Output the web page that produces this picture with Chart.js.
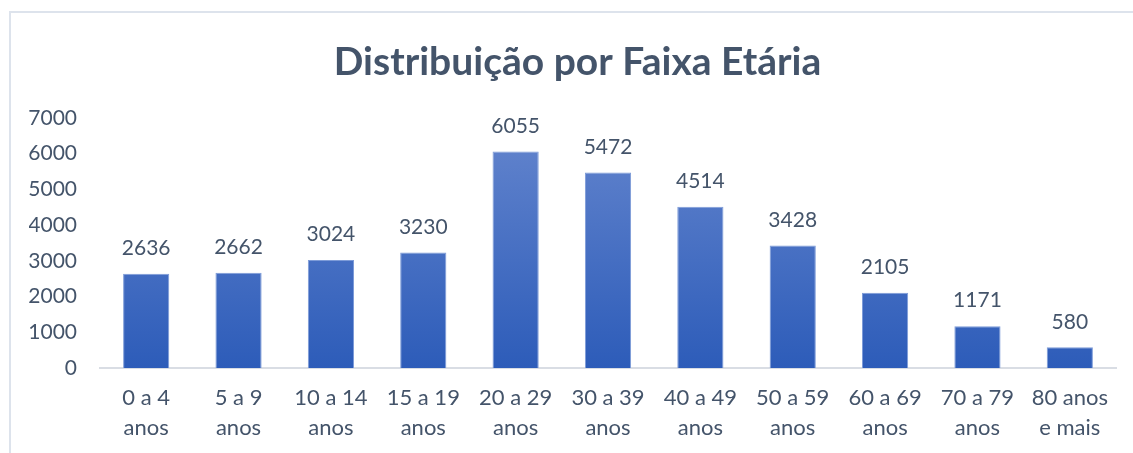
<!DOCTYPE html>
<html>
<head>
<meta charset="utf-8">
<script src="https://cdn.jsdelivr.net/npm/chart.js@4"></script>
<style>
    body { margin: 0; background: #fff; }
    #wrap { position: relative; width: 1133px; height: 453px; }
    #frame {
        position: absolute; left: 9px; top: 11px; width: 1130px; height: 450px;
        border-top: 2px solid #dde3ec; border-left: 2px solid #dde3ec;
    }
    canvas { position: absolute; left: 0; top: 0; }
</style>
</head>
<body>
<div id="wrap">
    <div id="frame"></div>
    <canvas id="ageChart" width="1133" height="453"></canvas>
</div>
<script>
const faixas = [
    ['0 a 4', 'anos'], ['5 a 9', 'anos'], ['10 a 14', 'anos'], ['15 a 19', 'anos'],
    ['20 a 29', 'anos'], ['30 a 39', 'anos'], ['40 a 49', 'anos'], ['50 a 59', 'anos'],
    ['60 a 69', 'anos'], ['70 a 79', 'anos'], ['80 anos', 'e mais']
];
const pessoas = [2636, 2662, 3024, 3230, 6055, 5472, 4514, 3428, 2105, 1171, 580];
const yTicks = [0, 1000, 2000, 3000, 4000, 5000, 6000, 7000];

const textColor = '#44546a';
const fontFamily = 'Lato, "Open Sans", sans-serif';

// value labels above each bar
const valueLabels = {
    id: 'valueLabels',
    afterDatasetsDraw(chart) {
        const ctx = chart.ctx;
        const meta = chart.getDatasetMeta(0);
        ctx.save();
        ctx.font = '21px ' + fontFamily;
        ctx.fillStyle = textColor;
        ctx.textAlign = 'center';
        ctx.textBaseline = 'bottom';
        meta.data.forEach((bar, i) => {
            ctx.fillText(pessoas[i], bar.x, bar.y - 15);
        });
        ctx.restore();
    }
};

// nudge the title a bit right, like the original
const titleShift = {
    id: 'titleShift',
    afterLayout(chart) {
        if (chart.titleBlock) {
            chart.titleBlock.left += 5;
            chart.titleBlock.right += 5;
        }
    }
};

function barGradient(context) {
    const area = context.chart.chartArea;
    if (!area) return '#4472c4';
    const el = context.element;
    const top = el && el.y !== undefined ? el.y : area.top;
    const bottom = area.bottom;
    const g = context.chart.ctx.createLinearGradient(0, top, 0, bottom);
    g.addColorStop(0, '#6586ce');
    g.addColorStop(1, '#2d5cb9');
    return g;
}

const ctx = document.getElementById('ageChart').getContext('2d');
const ageChart = new Chart(ctx, {
    type: 'bar',
    data: {
        labels: faixas,
        datasets: [{
            data: pessoas,
            backgroundColor: barGradient,
            borderColor: '#7d9bd8',
            borderWidth: 1,
            categoryPercentage: 1,
            barPercentage: 0.5
        }]
    },
    options: {
        responsive: false,
        animation: false,
        layout: { padding: { left: 29, right: 17, bottom: 10 } },
        plugins: {
            legend: { display: false },
            tooltip: { enabled: false },
            title: {
                display: true,
                text: 'Distribuição por Faixa Etária',
                color: textColor,
                font: { family: fontFamily, size: 39, weight: 'bold' },
                padding: { top: 39, bottom: 32 }
            }
        },
        scales: {
            x: {
                afterFit: scale => { scale.height = 75; scale.paddingLeft = 0; scale.paddingRight = 0; },
                grid: { display: false, drawTicks: false },
                border: { color: '#d9dde4', width: 2 },
                ticks: {
                    color: textColor,
                    font: { family: fontFamily, size: 22, lineHeight: 1.36 },
                    padding: 15,
                    maxRotation: 0,
                    autoSkip: false
                }
            },
            y: {
                min: 0,
                max: 7000,
                afterBuildTicks: axis => { axis.ticks = yTicks.map(v => ({ value: v })); },
                afterFit: scale => { scale.width = 71; },
                grid: { display: false, drawTicks: false },
                border: { display: false },
                ticks: {
                    color: textColor,
                    font: { family: fontFamily, size: 21 },
                    padding: 23,
                    callback: value => String(value)
                }
            }
        }
    },
    plugins: [valueLabels, titleShift]
});
</script>
</body>
</html>
